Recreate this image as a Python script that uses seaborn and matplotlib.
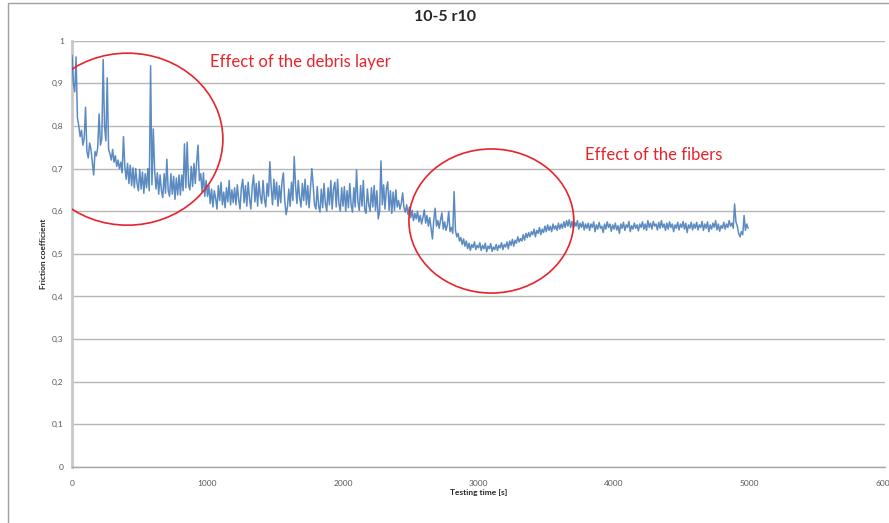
import numpy as np
import pandas as pd
import matplotlib
matplotlib.use("Agg")
import matplotlib.pyplot as plt
from matplotlib.patches import Ellipse, Rectangle
from matplotlib.ticker import FuncFormatter
import seaborn as sns

# Friction coefficient sampled every 10 s during the test
SAMPLE_STEP_S = 10
friction = [
    0.966, 0.900, 0.880, 0.962, 0.820, 0.800, 0.775, 0.790, 0.755, 0.770, 0.844, 0.740, 0.725, 0.760, 0.745, 0.715, 0.685, 0.740, 0.730, 0.750,
    0.828, 0.755, 0.770, 0.956, 0.800, 0.765, 0.913, 0.745, 0.735, 0.720, 0.745, 0.715, 0.730, 0.705, 0.720, 0.700, 0.715, 0.690, 0.775, 0.705,
    0.675, 0.712, 0.665, 0.708, 0.660, 0.702, 0.655, 0.700, 0.665, 0.648, 0.698, 0.652, 0.692, 0.642, 0.688, 0.655, 0.700, 0.648, 0.941, 0.662,
    0.793, 0.695, 0.652, 0.690, 0.640, 0.685, 0.648, 0.632, 0.688, 0.642, 0.722, 0.648, 0.635, 0.688, 0.640, 0.682, 0.628, 0.678, 0.638, 0.685,
    0.638, 0.685, 0.648, 0.758, 0.655, 0.762, 0.662, 0.650, 0.705, 0.658, 0.712, 0.665, 0.715, 0.755, 0.672, 0.688, 0.645, 0.690, 0.635, 0.672,
    0.635, 0.660, 0.618, 0.652, 0.610, 0.648, 0.630, 0.605, 0.660, 0.625, 0.668, 0.615, 0.645, 0.608, 0.655, 0.622, 0.672, 0.615, 0.650, 0.620,
    0.655, 0.615, 0.662, 0.628, 0.605, 0.655, 0.675, 0.620, 0.660, 0.612, 0.668, 0.630, 0.605, 0.658, 0.685, 0.622, 0.665, 0.612, 0.670, 0.635,
    0.618, 0.672, 0.628, 0.610, 0.665, 0.635, 0.716, 0.655, 0.615, 0.675, 0.628, 0.668, 0.612, 0.660, 0.620, 0.670, 0.690, 0.625, 0.592, 0.610,
    0.652, 0.612, 0.668, 0.625, 0.728, 0.658, 0.618, 0.672, 0.632, 0.610, 0.665, 0.625, 0.675, 0.615, 0.660, 0.608, 0.655, 0.700, 0.660, 0.615,
    0.605, 0.658, 0.612, 0.598, 0.652, 0.608, 0.665, 0.618, 0.600, 0.655, 0.615, 0.672, 0.605, 0.652, 0.668, 0.610, 0.675, 0.618, 0.600, 0.655,
    0.612, 0.658, 0.600, 0.648, 0.608, 0.665, 0.615, 0.598, 0.655, 0.610, 0.697, 0.622, 0.602, 0.660, 0.612, 0.672, 0.605, 0.595, 0.652, 0.615,
    0.600, 0.655, 0.610, 0.660, 0.602, 0.648, 0.582, 0.600, 0.718, 0.615, 0.662, 0.605, 0.652, 0.669, 0.602, 0.648, 0.595, 0.645, 0.602, 0.650,
    0.610, 0.625, 0.605, 0.618, 0.643, 0.608, 0.598, 0.615, 0.592, 0.610, 0.585, 0.602, 0.578, 0.595, 0.582, 0.600, 0.575, 0.590, 0.570, 0.585,
    0.603, 0.572, 0.590, 0.565, 0.585, 0.560, 0.535, 0.580, 0.607, 0.565, 0.578, 0.560, 0.580, 0.596, 0.558, 0.575, 0.555, 0.568, 0.599, 0.552,
    0.562, 0.548, 0.646, 0.555, 0.540, 0.548, 0.530, 0.538, 0.522, 0.535, 0.518, 0.530, 0.512, 0.525, 0.508, 0.522, 0.515, 0.528, 0.510, 0.520,
    0.514, 0.526, 0.508, 0.520, 0.512, 0.525, 0.505, 0.518, 0.512, 0.524, 0.506, 0.516, 0.510, 0.522, 0.508, 0.520, 0.514, 0.526, 0.510, 0.522,
    0.516, 0.528, 0.512, 0.530, 0.520, 0.534, 0.518, 0.532, 0.525, 0.540, 0.528, 0.536, 0.530, 0.545, 0.532, 0.548, 0.538, 0.550, 0.540, 0.552,
    0.545, 0.558, 0.540, 0.555, 0.548, 0.562, 0.545, 0.558, 0.550, 0.565, 0.552, 0.568, 0.555, 0.565, 0.552, 0.570, 0.558, 0.566, 0.555, 0.572,
    0.558, 0.570, 0.560, 0.575, 0.562, 0.578, 0.565, 0.580, 0.562, 0.576, 0.560, 0.574, 0.565, 0.578, 0.558, 0.572, 0.562, 0.575, 0.556, 0.570,
    0.560, 0.572, 0.555, 0.570, 0.562, 0.575, 0.552, 0.568, 0.558, 0.574, 0.560, 0.565, 0.550, 0.570, 0.558, 0.575, 0.562, 0.570, 0.553, 0.568,
    0.558, 0.572, 0.556, 0.566, 0.548, 0.570, 0.560, 0.574, 0.555, 0.568, 0.562, 0.576, 0.552, 0.566, 0.558, 0.572, 0.560, 0.568, 0.554, 0.570,
    0.562, 0.575, 0.558, 0.570, 0.555, 0.578, 0.562, 0.572, 0.558, 0.576, 0.565, 0.570, 0.556, 0.574, 0.560, 0.578, 0.562, 0.570, 0.555, 0.572,
    0.558, 0.575, 0.562, 0.570, 0.552, 0.568, 0.560, 0.574, 0.556, 0.570, 0.562, 0.576, 0.558, 0.572, 0.550, 0.568, 0.560, 0.574, 0.556, 0.570,
    0.560, 0.574, 0.556, 0.568, 0.562, 0.576, 0.555, 0.570, 0.560, 0.575, 0.552, 0.568, 0.558, 0.572, 0.562, 0.578, 0.556, 0.570, 0.553, 0.566,
    0.560, 0.574, 0.558, 0.570, 0.562, 0.578, 0.565, 0.572, 0.560, 0.617, 0.575, 0.565, 0.548, 0.540, 0.552, 0.545, 0.590, 0.555, 0.570, 0.560,
]
time_s = np.arange(len(friction)) * SAMPLE_STEP_S

x_ticks = [0, 1000, 2000, 3000, 4000, 5000, 6000]
y_ticks = [0, 0.1, 0.2, 0.3, 0.4, 0.5, 0.6, 0.7, 0.8, 0.9, 1.0]

title = "10-5 r10"
x_label = "Testing time [s]"
y_label = "Friction coefficient"
notes = ["Effect of the debris layer", "Effect of the fibers"]

df = pd.DataFrame({"time": time_s, "friction": friction})

sns.set_style("white")
plt.rcParams["font.family"] = ["Lato", "DejaVu Sans"]

W, H = 889, 523
fig = plt.figure(figsize=(W / 100, H / 100), dpi=100)
ax = fig.add_axes([72 / W, 1 - 467 / H, 813 / W, 426.3 / H])

LINE = "#4A7EBB"
RED = "#E8232B"
TXT = "#595959"

sns.lineplot(data=df, x="time", y="friction", ax=ax, color=LINE,
             linewidth=1.1, alpha=0.9, zorder=3)

ax.set_xlim(0, 6000)
ax.set_ylim(0, 1)
ax.set_xticks(x_ticks)
ax.set_yticks(y_ticks)

def comma_fmt(v, _):
    s = f"{v:.1f}".rstrip("0").rstrip(".")
    return s.replace(".", ",")

ax.yaxis.set_major_formatter(FuncFormatter(comma_fmt))
ax.xaxis.set_major_formatter(FuncFormatter(lambda v, _: f"{int(v)}"))

ax.grid(axis="y", color="#B7B7B7", linewidth=1.0)
ax.grid(axis="x", visible=False)
for side in ("top", "right"):
    ax.spines[side].set_visible(False)
ax.spines["left"].set_color("#C8C8C8")
ax.spines["left"].set_linewidth(2.0)
ax.spines["bottom"].set_color("#A6A6A6")
ax.spines["bottom"].set_linewidth(1.0)

ax.tick_params(axis="both", which="major", labelsize=6, labelcolor=TXT,
               color="#A6A6A6", length=3, width=0.8, direction="out")
ax.tick_params(axis="x", pad=6)
ax.tick_params(axis="y", pad=3)

ax.set_xlabel(x_label, fontsize=6, fontweight="bold", color="#262626", va="center")
ax.xaxis.set_label_coords(0.5, (467 - 493) / 426.3)
ax.set_ylabel(y_label, fontsize=6, fontweight="bold", color="#262626", va="center")
ax.yaxis.set_label_coords((43 - 72) / 813, 0.5)

fig.text(445 / W, 1 - 17 / H, title, ha="center", va="center",
         fontsize=11.5, fontweight="bold", color="#262626")

# highlight regions
ax.add_patch(Ellipse((409, 0.769), 1409, 0.4035, fill=False,
                     edgecolor=RED, linewidth=1.2, zorder=4))
ax.add_patch(Ellipse((3095, 0.577), 1217, 0.338, fill=False,
                     edgecolor=RED, linewidth=1.2, zorder=4))
ax.text(1018, 0.950, notes[0], color=RED, fontsize=12, ha="left", va="center")
ax.text(3784, 0.732, notes[1], color=RED, fontsize=12, ha="left", va="center")

# chart-area border
fig.patches.append(Rectangle((8 / W, -0.1), 1.2, 1 - 3 / H + 0.1,
                             transform=fig.transFigure, fill=False,
                             edgecolor="#A0A0A0", linewidth=1.0))

fig.savefig("out.png", dpi=100, facecolor="white")
